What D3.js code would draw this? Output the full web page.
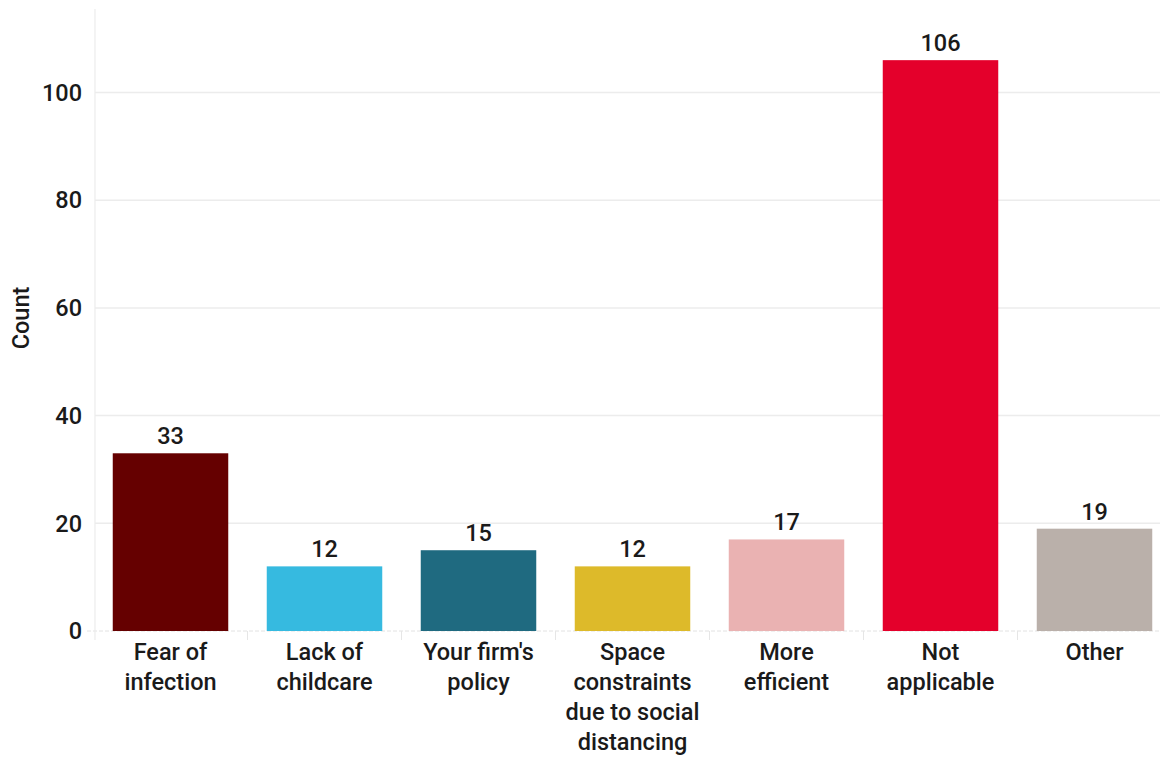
<!DOCTYPE html>
<html><head><meta charset="utf-8">
<script src="https://cdn.jsdelivr.net/npm/d3@7"></script>
<style>
html,body{margin:0;padding:0;background:#fff;}
svg{display:block;font-family:Roboto, "Noto Sans", sans-serif;}
</style></head>
<body>
<svg id="chart" width="1160" height="757"></svg>
<script>
const categories = ["Fear of infection","Lack of childcare","Your firm's policy","Space constraints due to social distancing","More efficient","Not applicable","Other"];
const labelLines = [["Fear of","infection"],["Lack of","childcare"],["Your firm's","policy"],["Space","constraints","due to social","distancing"],["More","efficient"],["Not","applicable"],["Other"]];
const values = [33,12,15,12,17,106,19];
const colors = ["#650000","#36BAE0","#1F6A80","#DDBA2A","#EAB2B2","#E4002B","#BAB0AA"];
const yTicks = [0,20,40,60,80,100];

const svg = d3.select("#chart");
const axisX = 95, yBase = 631, yTop = 9;
const x = d3.scaleBand().domain(categories).range([93.5, 1171.5]).paddingInner(0.25).paddingOuter(0.125);
const y = d3.scaleLinear().domain([0, 115.5]).range([yBase, yTop]);
const FS = 23.5;

// gridlines
svg.append("g").selectAll("line").data(yTicks.filter(d=>d>0)).join("line")
  .attr("x1", axisX).attr("x2", 1160).attr("y1", d=>y(d)).attr("y2", d=>y(d))
  .attr("stroke", "#ececec").attr("stroke-width", 1.5);
// zero line dashed
svg.append("line").attr("x1", 87).attr("x2", 1160).attr("y1", y(0)).attr("y2", y(0))
  .attr("stroke", "#e2e2e2").attr("stroke-width", 1).attr("stroke-dasharray", "4,2");
// y axis line
svg.append("line").attr("x1", axisX).attr("x2", axisX).attr("y1", yTop).attr("y2", yBase + 9)
  .attr("stroke", "#ececec").attr("stroke-width", 1.2);
// bottom ticks at band boundaries
const bounds = categories.map((c,i)=> 93.5 + i * x.step());
svg.append("g").selectAll("line").data(bounds.slice(1)).join("line")
  .attr("x1", d=>d).attr("x2", d=>d).attr("y1", yBase).attr("y2", yBase + 9)
  .attr("stroke", "#e6e6e6").attr("stroke-width", 1);

// y tick labels
svg.append("g").selectAll("text").data(yTicks).join("text")
  .attr("x", 82).attr("y", d=>y(d)).attr("dy", "0.35em")
  .attr("text-anchor", "end").attr("font-size", FS).attr("font-weight", 500).attr("fill", "#1a1a1a")
  .text(d=>d);
// y title
svg.append("text").attr("transform", "translate(29,318) rotate(-90)")
  .attr("text-anchor", "middle").attr("font-size", FS).attr("font-weight", 500).attr("fill", "#1a1a1a")
  .text("Count");

// bars
svg.append("g").selectAll("rect").data(values).join("rect")
  .attr("x", (d,i)=>x(categories[i])).attr("width", x.bandwidth())
  .attr("y", d=>y(d)).attr("height", d=>yBase - y(d))
  .attr("fill", (d,i)=>colors[i]);
// value labels
svg.append("g").selectAll("text").data(values).join("text")
  .attr("x", (d,i)=>x(categories[i]) + x.bandwidth()/2).attr("y", d=>y(d) - 9)
  .attr("text-anchor", "middle").attr("font-size", FS).attr("font-weight", 500).attr("fill", "#1a1a1a")
  .text(d=>d);
// x labels
const xl = svg.append("g").selectAll("text").data(labelLines).join("text")
  .attr("x", (d,i)=>x(categories[i]) + x.bandwidth()/2)
  .attr("y", 660).attr("text-anchor", "middle").attr("font-size", FS).attr("font-weight", 500).attr("fill", "#1a1a1a");
xl.each(function(lines, i){
  d3.select(this).selectAll("tspan").data(lines).join("tspan")
    .attr("x", x(categories[i]) + x.bandwidth()/2)
    .attr("dy", (d,j)=> j===0 ? 0 : 30).text(d=>d);
});
</script>
</body></html>
